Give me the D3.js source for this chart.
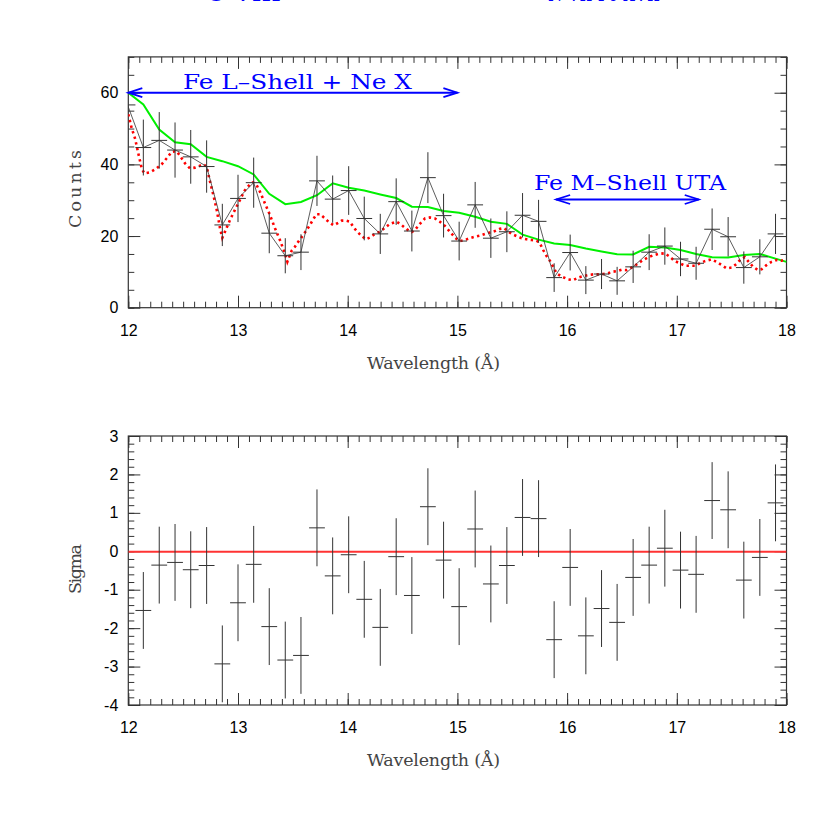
<!DOCTYPE html>
<html>
<head>
<meta charset="utf-8">
<script src="https://cdn.jsdelivr.net/npm/d3@7"></script>
<style>
  body { margin: 0; background: #fff; }
  svg { display: block; }
</style>
</head>
<body>
<div id="vis"></div>
<script>
// bin centres (Angstrom); first one sits just left of the frame
const wavelengths = [11.993, 12.137, 12.282, 12.426, 12.569, 12.714, 12.857, 13.000, 13.143, 13.285, 13.431,
  13.574, 13.720, 13.863, 14.009, 14.151, 14.297, 14.442, 14.585, 14.731, 14.874,
  15.016, 15.162, 15.305, 15.451, 15.594, 15.740, 15.882, 16.028, 16.171, 16.314,
  16.456, 16.602, 16.748, 16.891, 17.034, 17.176, 17.322, 17.468, 17.611, 17.757, 17.900]
const counts = [56.6, 44.7, 46.7, 44.0, 42.1, 39.4, 23.1, 30.5, 34.9, 20.8, 14.5,
  15.5, 35.4, 30.3, 32.7, 24.9, 20.6, 29.6, 21.4, 36.3, 25.7,
  18.6, 28.7, 19.4, 21.2, 25.8, 24.1, 8.4, 15.4, 7.7, 9.4,
  7.5, 11.4, 15.5, 17.2, 13.6, 12.4, 21.9, 19.8, 11.2, 14.2, 20.6]
const countErrors = [8.6, 7.8, 7.9, 7.7, 7.5, 7.3, 5.9, 6.6, 7.0, 5.6, 4.9,
  5.0, 7.0, 6.6, 6.8, 6.1, 5.6, 6.5, 5.7, 7.1, 6.1,
  5.4, 6.4, 5.5, 5.7, 6.2, 6.0, 4.0, 5.0, 3.9, 4.2,
  3.9, 4.5, 5.0, 5.2, 4.8, 4.6, 5.8, 5.5, 4.5, 4.9, 5.6]
const sigmas = [null, -1.54, -0.36, -0.29, -0.48, -0.37, -2.93, -1.34, -0.34, -1.96, -2.83,
  -2.71, 0.61, -0.64, -0.09, -1.25, -1.98, -0.14, -1.15, 1.16, -0.23,
  -1.44, 0.58, -0.85, -0.37, 0.88, 0.85, -2.30, -0.42, -2.20, -1.49,
  -1.85, -0.68, -0.36, 0.08, -0.49, -0.60, 1.32, 1.08, -0.75, -0.16, 1.26]
const binHalf = 0.072

// green model (binned)
const greenX = [12.0, 12.137, 12.282, 12.426, 12.569, 12.714, 12.857, 13.000, 13.143, 13.285, 13.431,
  13.574, 13.720, 13.863, 14.009, 14.151, 14.297, 14.442, 14.585, 14.731, 14.874,
  15.016, 15.162, 15.305, 15.451, 15.594, 15.740, 15.882, 16.028, 16.171, 16.314,
  16.456, 16.602, 16.748, 16.891, 17.034, 17.176, 17.322, 17.468, 17.611, 17.757, 17.900, 18.0]
const greenY = [60.0, 56.7, 49.7, 46.2, 45.6, 42.1, 40.9, 39.5, 37.2, 31.8, 28.9,
  29.5, 31.4, 34.7, 33.5, 32.7, 31.6, 30.6, 28.2, 28.1, 27.0,
  26.5, 25.4, 24.0, 23.4, 20.4, 19.0, 17.9, 17.5, 16.5, 15.7,
  14.9, 14.85, 17.0, 16.8, 16.1, 15.0, 14.1, 14.0, 14.7, 15.0, 13.7, 12.8]

// red dotted model (fine grid)
const redX = [12.000, 12.031, 12.061, 12.091, 12.122, 12.146, 12.198, 12.250, 12.304, 12.350, 12.396, 12.441,
  12.471, 12.517, 12.562, 12.608, 12.644, 12.683, 12.714, 12.745, 12.775, 12.806, 12.836, 12.857,
  12.881, 12.927, 12.972, 13.018, 13.063, 13.109, 13.139, 13.170, 13.200, 13.246, 13.291, 13.337,
  13.382, 13.422, 13.450, 13.489, 13.519, 13.549, 13.589, 13.626, 13.656, 13.686, 13.717, 13.747,
  13.786, 13.832, 13.872, 13.914, 13.945, 13.984, 14.020, 14.050, 14.081, 14.127, 14.166, 14.203,
  14.248, 14.294, 14.339, 14.385, 14.446, 14.491, 14.537, 14.583, 14.613, 14.658, 14.704, 14.749,
  14.795, 14.840, 14.886, 14.932, 14.977, 15.007, 15.023, 15.068, 15.114, 15.160, 15.205, 15.251,
  15.296, 15.342, 15.387, 15.426, 15.457, 15.494, 15.539, 15.585, 15.631, 15.676, 15.722, 15.752,
  15.782, 15.813, 15.843, 15.873, 15.904, 15.950, 16.010, 16.055, 16.101, 16.146, 16.192, 16.238,
  16.283, 16.329, 16.374, 16.405, 16.451, 16.496, 16.542, 16.602, 16.648, 16.693, 16.739, 16.784,
  16.830, 16.891, 16.936, 16.982, 17.028, 17.073, 17.119, 17.164, 17.210, 17.256, 17.316, 17.362,
  17.408, 17.453, 17.499, 17.544, 17.583, 17.620, 17.650, 17.696, 17.741, 17.772, 17.818, 17.863,
  17.909, 17.955, 17.985]
const redY = [54.0, 50.1, 47.3, 43.1, 38.9, 37.5, 37.8, 38.7, 40.0, 41.7, 43.5, 43.7,
  42.4, 40.3, 38.9, 39.1, 39.5, 40.0, 39.4, 35.2, 31.5, 27.3, 22.2, 19.5,
  21.2, 24.5, 27.3, 30.1, 32.8, 34.4, 35.0, 34.2, 32.4, 29.1, 25.9, 22.2,
  18.9, 15.6, 12.8, 15.9, 17.0, 18.4, 20.0, 21.7, 23.1, 24.7, 26.1, 26.1,
  25.1, 23.8, 23.0, 23.7, 24.3, 24.3, 24.0, 22.6, 21.4, 20.0, 19.1, 19.6,
  20.6, 21.2, 22.3, 23.4, 24.0, 23.1, 21.9, 21.1, 21.7, 23.4, 24.9, 25.2,
  24.9, 24.0, 22.8, 21.2, 19.6, 18.9, 18.6, 18.9, 19.4, 19.8, 20.1, 20.6,
  21.0, 21.4, 22.0, 22.2, 21.4, 20.6, 20.0, 19.4, 19.1, 18.9, 18.7, 18.0,
  16.1, 14.4, 13.1, 11.4, 9.6, 8.7, 7.9, 7.7, 8.4, 8.8, 9.1, 9.3,
  9.3, 9.4, 9.6, 10.0, 10.2, 10.6, 10.5, 11.4, 12.4, 13.3, 14.1, 14.6,
  15.0, 15.2, 14.2, 13.0, 12.4, 11.7, 11.7, 11.7, 12.4, 13.0, 13.5, 12.8,
  11.9, 11.0, 11.2, 12.2, 13.5, 14.1, 13.0, 11.4, 10.5, 10.7, 11.9, 12.8,
  13.3, 13.1, 13.5]

// annotations: start, end, level, label
const arrowStarts = [12.0, 15.9]
const arrowEnds = [15.0, 17.2]
const arrowLevels = [60, 30.2]
const arrowLabels = ['Fe L\u2013Shell + Ne X', 'Fe M\u2013Shell UTA']

const xTickValues = [12, 13, 14, 15, 16, 17, 18]
const countTickValues = [0, 20, 40, 60]
const sigmaTickValues = [-4, -3, -2, -1, 0, 1, 2, 3]

const W = 830, H = 830
const left = 128.3, right = 786.5
const top1 = 56.9, bottom1 = 307.7
const top2 = 436, bottom2 = 705
const frameColor = '#333'
const dataColor = '#333'
const serif = '"DejaVu Serif", "Liberation Serif", serif'
const sans = '"Liberation Sans", Arial, sans-serif'

const xScale = d3.scaleLinear([12, 18], [left, right])
const countScale = d3.scaleLinear([0, 70], [bottom1, top1])
const sigmaScale = d3.scaleLinear([-4, 3], [bottom2, top2])

const svg = d3.select('#vis').append('svg')
  .attr('width', W).attr('height', H)
  .attr('viewBox', `0 0 ${W} ${H}`)

svg.append('rect').attr('width', W).attr('height', H).attr('fill', '#fff')

// labels of a panel above, cut off by the top edge
svg.append('g')
  .selectAll('text')
  .data([['O VIII', 206, 75], ['N VII Fe XVII', 548, 112]])
  .join('text')
    .attr('x', d => d[1]).attr('y', 0.8)
    .attr('textLength', d => d[2]).attr('lengthAdjust', 'spacingAndGlyphs')
    .attr('font-family', serif).attr('font-size', 21)
    .attr('fill', '#0000ff')
    .text(d => d[0])

function drawFrame(yScale, yMajor, yMinorCount, yTop, yBottom, id) {
  const g = svg.append('g')

  svg.append('defs')
    .append('clipPath').attr('id', id)
    .append('rect')
      .attr('x', left).attr('y', yTop)
      .attr('width', right - left).attr('height', yBottom - yTop)

  const axes = [
    [d3.axisBottom(xScale).tickValues(xTickValues).tickSize(-12).tickPadding(17).tickFormat(d => String(d)), `translate(0,${yBottom})`],
    [d3.axisBottom(xScale).ticks(60).tickSize(-6).tickFormat(''), `translate(0,${yBottom})`],
    [d3.axisTop(xScale).tickValues(xTickValues).tickSize(-12).tickFormat(''), `translate(0,${yTop})`],
    [d3.axisTop(xScale).ticks(60).tickSize(-6).tickFormat(''), `translate(0,${yTop})`],
    [d3.axisLeft(yScale).tickValues(yMajor).tickSize(-12).tickPadding(10).tickFormat(d => String(d)), `translate(${left},0)`],
    [d3.axisLeft(yScale).ticks(yMinorCount).tickSize(-6).tickFormat(''), `translate(${left},0)`],
    [d3.axisRight(yScale).tickValues(yMajor).tickSize(-12).tickFormat(''), `translate(${right},0)`],
    [d3.axisRight(yScale).ticks(yMinorCount).tickSize(-6).tickFormat(''), `translate(${right},0)`]
  ]
  axes.forEach(([ax, tr]) => {
    g.append('g')
      .attr('transform', tr)
      .call(ax)
      .call(s => s.select('.domain').remove())
      .call(s => s.selectAll('.tick line').attr('stroke', frameColor).attr('stroke-width', 1))
      .call(s => s.selectAll('.tick text')
        .attr('font-family', sans).attr('font-size', 16).attr('fill', '#000'))
  })

  g.append('rect')
    .attr('x', left).attr('y', yTop)
    .attr('width', right - left).attr('height', yBottom - yTop)
    .attr('fill', 'none').attr('stroke', frameColor).attr('stroke-width', 1.2)
  return g
}

function drawErrorBars(plot, yScale, values, errors) {
  const pts = wavelengths.map((w, i) => ({ w, v: values[i], e: errors ? errors[i] : 1 }))
    .filter(d => d.v !== null)
  plot.append('g')
    .selectAll('line')
    .data(pts).join('line')
      .attr('x1', d => xScale(d.w)).attr('x2', d => xScale(d.w))
      .attr('y1', d => yScale(d.v - d.e)).attr('y2', d => yScale(d.v + d.e))
      .attr('stroke', dataColor).attr('stroke-width', 1)
  plot.append('g')
    .selectAll('line')
    .data(pts).join('line')
      .attr('x1', d => xScale(d.w - binHalf)).attr('x2', d => xScale(d.w + binHalf))
      .attr('y1', d => yScale(d.v)).attr('y2', d => yScale(d.v))
      .attr('stroke', dataColor).attr('stroke-width', 1)
}

// upper panel: counts
drawFrame(countScale, countTickValues, 14, top1, bottom1, 'clipTop')
const plotTop = svg.append('g').attr('clip-path', 'url(#clipTop)')

plotTop.append('path')
  .datum(greenX.map((x, i) => [x, greenY[i]]))
  .attr('d', d3.line().x(d => xScale(d[0])).y(d => countScale(d[1])))
  .attr('fill', 'none').attr('stroke', '#00f000').attr('stroke-width', 2)

plotTop.append('path')
  .datum(redX.map((x, i) => [x, redY[i]]))
  .attr('d', d3.line().x(d => xScale(d[0])).y(d => countScale(d[1])))
  .attr('fill', 'none').attr('stroke', '#ff0000').attr('stroke-width', 2.6)
  .attr('stroke-dasharray', '2.4,3.4')

plotTop.append('path')
  .datum(wavelengths.map((w, i) => [w, counts[i]]))
  .attr('d', d3.line().x(d => xScale(d[0])).y(d => countScale(d[1])))
  .attr('fill', 'none').attr('stroke', dataColor).attr('stroke-width', 0.8)

drawErrorBars(plotTop, countScale, counts, countErrors)

// arrows and their labels
const arrowG = svg.append('g')
arrowStarts.forEach((s, i) => {
  const x1 = xScale(s), x2 = xScale(arrowEnds[i]), y = countScale(arrowLevels[i])
  arrowG.append('line')
    .attr('x1', x1).attr('x2', x2).attr('y1', y).attr('y2', y)
    .attr('stroke', '#0000ff').attr('stroke-width', 1.8)
  ;[[x1, 1], [x2, -1]].forEach(([x, dir]) => {
    arrowG.append('path')
      .attr('d', `M${x + dir * 14},${y - 4.5} L${x},${y} L${x + dir * 14},${y + 4.5}`)
      .attr('fill', 'none').attr('stroke', '#0000ff').attr('stroke-width', 1.8)
  })
})
svg.append('g')
  .selectAll('text')
  .data(arrowLabels)
  .join('text')
    .attr('x', (d, i) => i === 0 ? 183 : 534)
    .attr('y', (d, i) => countScale(arrowLevels[i]) - (i === 0 ? 4 : 9))
    .attr('textLength', (d, i) => i === 0 ? 229 : 192)
    .attr('lengthAdjust', 'spacingAndGlyphs')
    .attr('font-family', serif).attr('font-size', 20)
    .attr('fill', '#0000ff')
    .text(d => d)

// lower panel: sigma
drawFrame(sigmaScale, sigmaTickValues, 35, top2, bottom2, 'clipBottom')
const plotBottom = svg.append('g').attr('clip-path', 'url(#clipBottom)')

plotBottom.append('line')
  .attr('x1', left).attr('x2', right)
  .attr('y1', sigmaScale(0) + 0.5).attr('y2', sigmaScale(0) + 0.5)
  .attr('stroke', '#ff3333').attr('stroke-width', 2)

drawErrorBars(plotBottom, sigmaScale, sigmas, null)

// axis titles
const titles = svg.append('g')
  .attr('font-family', serif).attr('font-size', 17.5).attr('fill', '#444')
;[369, 766].forEach(y => {
  titles.append('text')
    .attr('x', 367).attr('y', y)
    .attr('textLength', 133).attr('lengthAdjust', 'spacing')
    .text('Wavelength (\u00c5)')
})
titles.append('text')
  .attr('transform', 'translate(81,150) rotate(-90)')
  .attr('text-anchor', 'end')
  .attr('textLength', 78).attr('lengthAdjust', 'spacing')
  .text('Counts')
titles.append('text')
  .attr('transform', 'translate(81,594) rotate(-90)')
  .attr('textLength', 50).attr('lengthAdjust', 'spacing')
  .text('Sigma')
</script>
</body>
</html>
